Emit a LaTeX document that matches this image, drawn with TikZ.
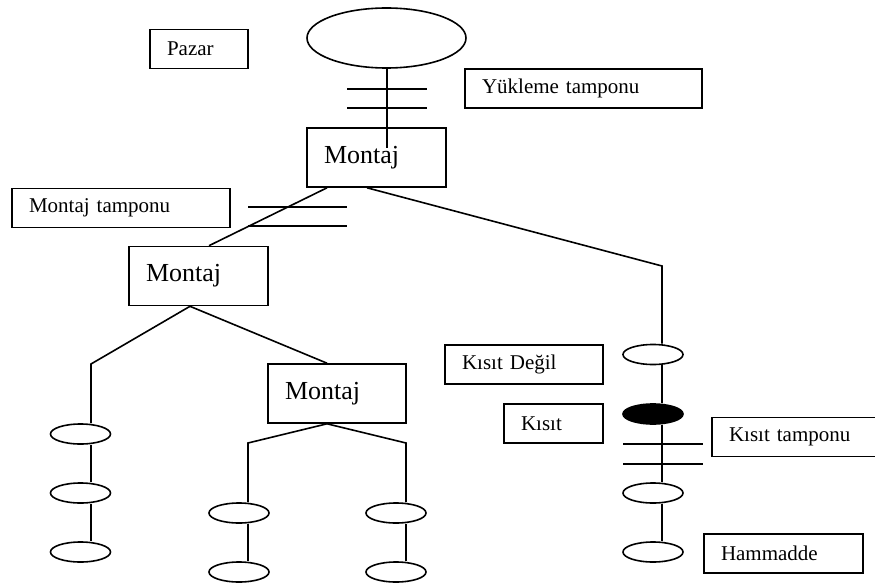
\documentclass[tikz,border=0pt]{standalone}
\usepackage{fontspec}
\setmainfont{Liberation Serif}
\usetikzlibrary{shapes.geometric}
\begin{document}
\begin{tikzpicture}[x=1pt,y=-1pt,
  line width=1.6pt,
  tag/.style={draw, line width=1.6pt, inner xsep=17pt, inner ysep=0pt,
    align=left, font=\fontsize{21}{25}\selectfont, minimum height=39pt},
  asm/.style={tag, font=\fontsize{26}{31}\selectfont, text width=105pt,
    minimum height=59pt},
  stock/.style={draw, ellipse, line width=1.6pt, minimum width=60pt,
    minimum height=20pt, inner sep=0pt},
  bottleneck/.style={stock, fill=black}]
\useasboundingbox (0,0) rectangle (875,583);

% labels and assembly stations
\node[tag, text width=64pt] (pazar) at (199,49) {Pazar};
\node[draw, ellipse, line width=1.6pt, minimum width=159pt,
  minimum height=60pt, inner sep=0pt] (market) at (386.5,38) {};
\node[tag, text width=203pt] (yuk) at (583.5,88.5) {Yükleme tamponu};
\node[asm] (m1) at (376.5,157.5) {Montaj};
\node[tag, text width=184pt] (mt) at (121,208) {Montaj tamponu};
\node[asm] (m2) at (198.5,276) {Montaj};
\node[asm, text width=104pt] (m3) at (337,393.5) {Montaj};
\node[tag, text width=124pt] (kd) at (524,364.5) {Kısıt Değil};
\node[tag, text width=65pt] (k) at (553.5,423.5) {Kısıt};
\node[tag, text width=154pt] (kt) at (806,437) {Kısıt tamponu};
\node[tag, text width=125pt] (ham) at (783.5,553.5) {Hammadde};

% operations
\node[stock] (r1) at (653,354.5) {};
\node[bottleneck] (r2) at (653,414) {};
\node[stock] (r3) at (653,493) {};
\node[stock] (r4) at (653,552) {};
\node[stock] (a1) at (80.5,434) {};
\node[stock] (a2) at (80.5,493) {};
\node[stock] (a3) at (80.5,552) {};
\node[stock] (b1) at (239,513) {};
\node[stock] (b2) at (239,572) {};
\node[stock] (c1) at (396,513) {};
\node[stock] (c2) at (396,572) {};

% bends of the routing
\coordinate (m1in) at (387,148);
\coordinate (rc) at (662,266);
\coordinate (lc) at (91,364);
\coordinate (bl) at (248,443);
\coordinate (br) at (406,443);

% connectors
\draw ([xshift=0.5pt]market.south) -- (m1in);
\draw ([xshift=-49.5pt]m1.south) -- ([xshift=10.5pt]m2.north);
\draw ([xshift=-9.5pt]m1.south) -- (rc) -- ([xshift=9pt]r1.north);
\draw ([xshift=-8.5pt]m2.south) -- (lc) -- ([xshift=10.5pt]a1.north);
\draw ([xshift=-8.5pt]m2.south) -- ([xshift=-10pt]m3.north);
\draw ([xshift=-10pt]m3.south) -- (bl) -- ([xshift=9pt]b1.north);
\draw ([xshift=-10pt]m3.south) -- (br) -- ([xshift=10pt]c1.north);
\draw ([xshift=10.5pt]a1.south) -- ([xshift=10.5pt]a2.north);
\draw ([xshift=10.5pt]a2.south) -- ([xshift=10.5pt]a3.north);
\draw ([xshift=9pt]b1.south) -- ([xshift=9pt]b2.north);
\draw ([xshift=10pt]c1.south) -- ([xshift=10pt]c2.north);
\draw ([xshift=9pt]r1.south) -- ([xshift=9pt]r2.north);
\draw ([xshift=9pt]r2.south) -- ([xshift=9pt]r3.north);
\draw ([xshift=9pt]r3.south) -- ([xshift=9pt]r4.north);

% buffer marks
\draw (347,89) -- (427,89);
\draw (347,108) -- (427,108);
\draw (248,207) -- (347,207);
\draw (248,226) -- (347,226);
\draw (623,444) -- (703,444);
\draw (623,464) -- (703,464);
\end{tikzpicture}
\end{document}
